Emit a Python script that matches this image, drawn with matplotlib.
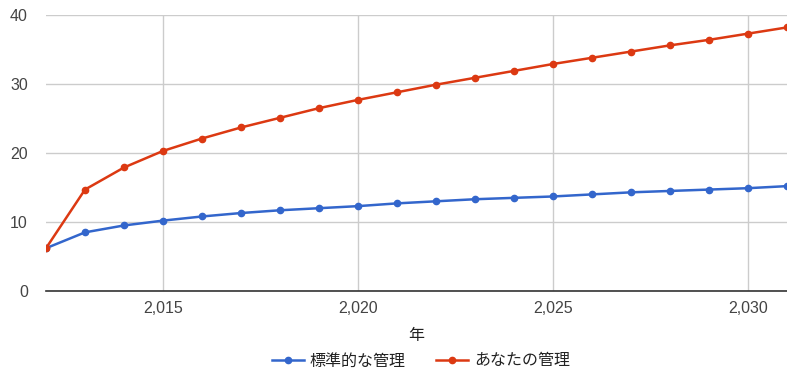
import matplotlib
matplotlib.use("Agg")
import matplotlib.pyplot as plt
from matplotlib.ticker import FuncFormatter

plt.rcParams['font.family'] = ['Liberation Sans', 'Noto Sans CJK JP']

years = list(range(2012, 2032))
standard = [6.2, 8.5, 9.5, 10.2, 10.8, 11.3, 11.7, 12.0, 12.3, 12.7, 13.0,
            13.3, 13.5, 13.7, 14.0, 14.3, 14.5, 14.7, 14.9, 15.2]
yours = [6.2, 14.7, 17.9, 20.3, 22.1, 23.7, 25.1, 26.5, 27.7, 28.8, 29.9,
         30.9, 31.9, 32.9, 33.8, 34.7, 35.6, 36.4, 37.3, 38.2]
series_names = ['標準的な管理', 'あなたの管理']
x_label = '年'
x_ticks = [2015, 2020, 2025, 2030]
y_ticks = [0, 10, 20, 30, 40]

fig = plt.figure(figsize=(7.87, 3.70), dpi=100)
ax = fig.add_axes([46/787, 1-291/370, 1-46/787, (291-15)/370])

ax.plot(years, standard, color='#3366cc', lw=1.8, marker='o', ms=4.5, label=series_names[0], zorder=3)
ax.plot(years, yours, color='#dc3912', lw=1.8, marker='o', ms=4.5, label=series_names[1], zorder=4)

ax.set_xlim(2012, 2031)
ax.set_ylim(0, 40)
ax.set_xticks(x_ticks)
ax.set_yticks(y_ticks)
ax.xaxis.set_major_formatter(FuncFormatter(lambda v, p: f"{int(v):,}"))
ax.grid(True, color='#cccccc', lw=1)
ax.set_axisbelow(True)
for s in ['left', 'right', 'top']:
    ax.spines[s].set_visible(False)
ax.spines['bottom'].set_color('#333333')
ax.spines['bottom'].set_linewidth(1.2)
ax.spines['bottom'].set_zorder(5)
ax.tick_params(length=0, labelsize=11.5, colors='#444444')
ax.tick_params(axis='y', pad=13)
ax.tick_params(axis='x', pad=7)
ax.set_xlabel(x_label, fontsize=11.5, style='italic', color='#222222', labelpad=9)

fig.legend(loc='center', ncol=2, bbox_to_anchor=(0.535, 1-361/370), frameon=False,
           fontsize=11.5, handlelength=2.0, columnspacing=1.9, handletextpad=0.35,
           labelcolor='#222222')

fig.savefig('out.png', dpi=100)
